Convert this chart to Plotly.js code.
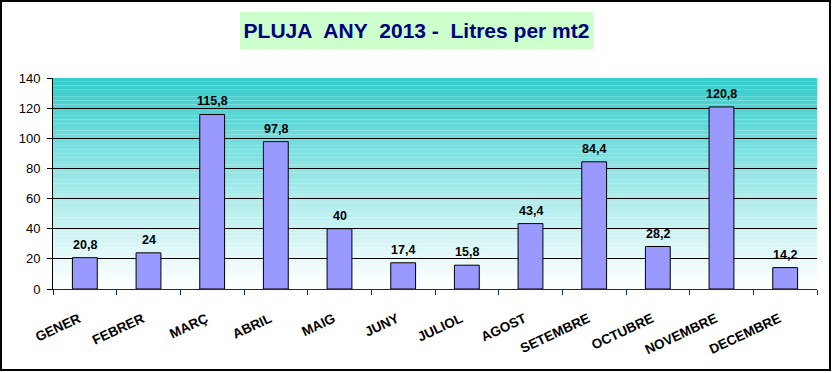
<!DOCTYPE html>
<html>
<head>
<meta charset="utf-8">
<script src="https://cdn.plot.ly/plotly-3.0.1.min.js"></script>
<style>
  html, body { margin: 0; padding: 0; background: #fff; }
  #wrap { position: relative; width: 833px; height: 373px; }
  #chart { position: absolute; left: 0; top: 0; width: 833px; height: 373px; }
  #frame { position: absolute; left: 0; top: 0; width: 827px; height: 367px; border: 2px solid #000; pointer-events: none; }
</style>
</head>
<body>
<div id="wrap">
  <div id="chart"></div>
  <div id="frame"></div>
</div>
<script>
const months = ["GENER","FEBRER","MARÇ","ABRIL","MAIG","JUNY","JULIOL","AGOST","SETEMBRE","OCTUBRE","NOVEMBRE","DECEMBRE"];
const rainfall = [20.8, 24, 115.8, 97.8, 40, 17.4, 15.8, 43.4, 84.4, 28.2, 120.8, 14.2];
const yTicks = [0, 20, 40, 60, 80, 100, 120, 140];
const chartTitle = "PLUJA\u00A0 ANY\u00A0 2013 -\u00A0 Litres per mt2";

const labels = rainfall.map(v => String(v).replace('.', ','));
const FONT = 'Arial, "Liberation Sans", sans-serif';

// background gradient bands (white at bottom to teal at top)
const shapes = [];
const yMax = 140, nBands = 56;
const colTop = [0x33, 0xCC, 0xCC], colBot = [0xFF, 0xFF, 0xFF];
for (let i = 0; i < nBands; i++) {
  const t = (i + 0.5) / nBands;
  const c = colBot.map((b, k) => Math.round(b + (colTop[k] - b) * Math.pow(t, 1.1)));
  shapes.push({
    type: 'rect', xref: 'paper', yref: 'y', layer: 'below',
    x0: 0, x1: 1, y0: yMax * i / nBands, y1: yMax * (i + 1) / nBands,
    fillcolor: `rgb(${c[0]},${c[1]},${c[2]})`, line: { width: 0 }
  });
}

const trace = {
  type: 'bar',
  x: months,
  y: rainfall,
  marker: { color: '#9999FF', line: { color: '#000', width: 1 } },
  hoverinfo: 'x+y'
};

const valueLabels = months.map((m, i) => ({
  xref: 'x', yref: 'y', x: m, y: rainfall[i],
  text: '<b>' + labels[i] + '</b>',
  showarrow: false, xanchor: 'center', yanchor: 'bottom', yshift: 4,
  font: { family: FONT, size: 12.5, color: '#000' }
}));

const layout = {
  width: 833, height: 373,
  margin: { l: 53, r: 16, t: 78, b: 84 },
  paper_bgcolor: 'rgba(0,0,0,0)',
  plot_bgcolor: 'rgba(0,0,0,0)',
  bargap: 0.61,
  showlegend: false,
  shapes: shapes,
  font: { family: FONT, color: '#000' },
  xaxis: {
    type: 'category',
    tickangle: -25,
    ticks: 'outside', tickson: 'boundaries', ticklen: 5, tickcolor: '#003366', tickwidth: 1,
    showline: true, linecolor: '#003366', linewidth: 1,
    showgrid: false,
    tickfont: { family: FONT, size: 13.5, color: '#000', weight: 'bold' },
    ticklabelstandoff: 16,
    ticklabelshift: -6
  },
  yaxis: {
    range: [0, 140],
    tickvals: yTicks,
    ticks: 'outside', ticklen: 5, tickcolor: '#000', tickwidth: 1,
    showline: true, linecolor: '#000', linewidth: 1,
    showgrid: true, gridcolor: '#000', gridwidth: 1,
    zeroline: false,
    tickfont: { family: FONT, size: 13, color: '#000' },
    ticklabelstandoff: 4
  },
  annotations: valueLabels.concat([{
    xref: 'paper', yref: 'paper',
    x: 0.4758, y: 1.225, xanchor: 'center', yanchor: 'middle',
    text: '<b>' + chartTitle + '</b>',
    showarrow: false,
    font: { family: FONT, size: 21, color: '#000080' },
    bgcolor: '#CCFFCC',
    width: 349, height: 33, borderpad: 2, borderwidth: 0
  }])
};

Plotly.newPlot('chart', [trace], layout, { displayModeBar: false, staticPlot: true });
</script>
</body>
</html>
